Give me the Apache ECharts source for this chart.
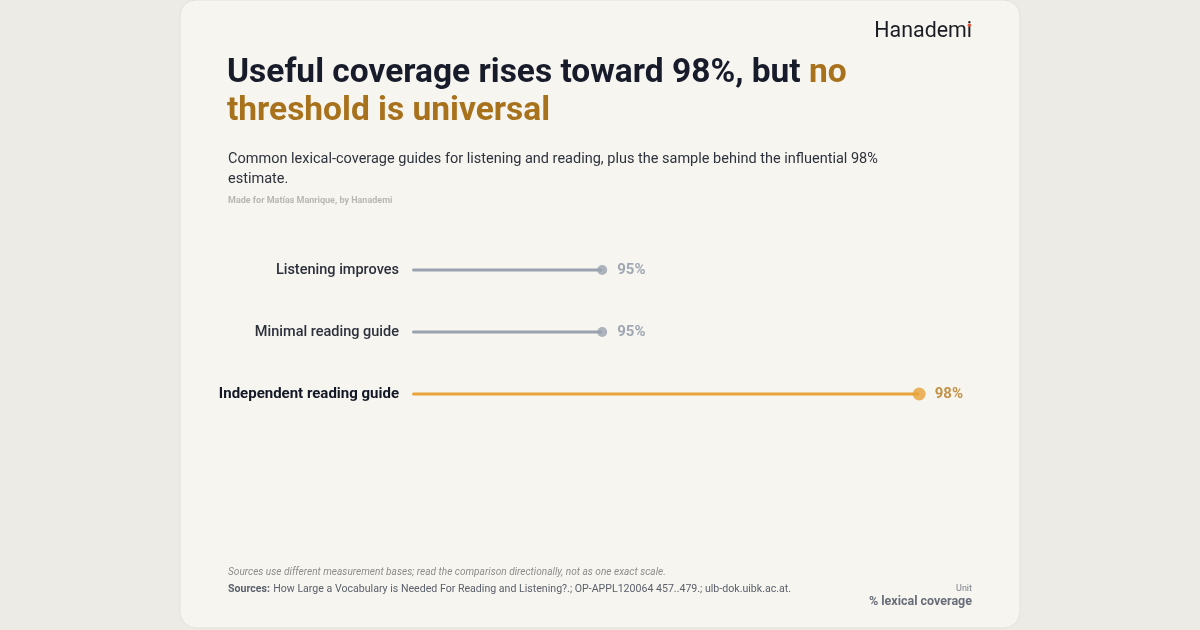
<!DOCTYPE html>
<html><head><meta charset="utf-8">
<script src="https://cdn.jsdelivr.net/npm/echarts@6/dist/echarts.min.js"></script>
<style>html,body{margin:0;padding:0;background:#ecebe6;}#c{width:1200px;height:630px;}</style>
</head><body><div id="c"></div>
<script>
const categories = ['Listening improves', 'Minimal reading guide', 'Independent reading guide'];
const values = [95, 95, 98];
const highlightIndex = 2;
const unitLabel = '% lexical coverage';

const FONT = 'Roboto, "Noto Sans", sans-serif';
const GREY = '#9aa2b0', ORANGE = '#e9a33b', GOLD = '#a8711c', INK = '#171b2a';

const chart = echarts.init(document.getElementById('c'), null, {renderer: 'canvas'});
const barData = values.map((v, i) => ({
  value: v,
  itemStyle: {color: i === highlightIndex ? ORANGE : GREY}
}));
const dotData = values.map((v, i) => ({
  value: [v, categories[i]],
  symbolSize: i === highlightIndex ? 13 : 10,
  itemStyle: {color: i === highlightIndex ? ORANGE : GREY},
  label: {
    color: i === highlightIndex ? '#b8791d' : '#8a93a2',
    distance: i === highlightIndex ? 9 : 10
  }
}));

chart.setOption({
  backgroundColor: '#ecebe6',
  animation: false,
  textStyle: {fontFamily: FONT},
  graphic: [
    {type: 'rect', z: -10, shape: {x: 180, y: 0, width: 840, height: 628, r: 16},
     style: {fill: '#f6f5f0', stroke: '#e3e1db', lineWidth: 1}},
    {type: 'text', right: 228, top: 21.5, style: {text: 'Hanademi', font: '400 21.4px ' + FONT, fill: '#1b1d24', align: 'right'}},
    {type: 'circle', z: 10, shape: {cx: 969.4, cy: 25.3, r: 1.8}, style: {fill: '#e2543a'}},
    {type: 'text', left: 227, top: 57, style: {
      text: '{a|Useful coverage rises toward 98%, but }{b|no}\n{b|threshold is universal}',
      rich: {
        a: {font: '700 33.5px ' + FONT, fill: INK, lineHeight: 38},
        b: {font: '700 33.5px ' + FONT, fill: GOLD, lineHeight: 38}
      }
    }},
    {type: 'text', left: 228, top: 149, style: {
      text: 'Common lexical-coverage guides for listening and reading, plus the sample behind the influential 98%\nestimate.',
      font: '400 14.5px ' + FONT, fill: '#2e323c', lineHeight: 20
    }},
    {type: 'text', left: 228, top: 196, style: {text: 'Made for Matías Manrique, by Hanademi', font: '700 9px ' + FONT, fill: '#b7b7b4'}},
    {type: 'text', left: 228, top: 567, style: {
      text: 'Sources use different measurement bases; read the comparison directionally, not as one exact scale.',
      font: 'italic 400 10.1px ' + FONT, fill: '#8c8c8a'}},
    {type: 'text', left: 228, top: 583, style: {
      text: '{b|Sources:} {n|How Large a Vocabulary is Needed For Reading and Listening?.; OP-APPL120064 457..479.; ulb-dok.uibk.ac.at.}',
      rich: {b: {font: '700 10.6px ' + FONT, fill: '#5b606b'}, n: {font: '400 10.6px ' + FONT, fill: '#5b606b'}}
    }},
    {type: 'text', right: 228, top: 584, style: {text: 'Unit', font: '400 9px ' + FONT, fill: '#7d818a', align: 'right'}},
    {type: 'text', right: 228, top: 595, style: {text: unitLabel, font: '700 12.5px ' + FONT, fill: '#686d78', align: 'right'}}
  ],
  grid: {left: 412, right: 228, top: 239, height: 186, containLabel: false},
  xAxis: {
    type: 'value', min: 93.2, max: 98.5, show: false
  },
  yAxis: {
    type: 'category', data: categories, inverse: true,
    axisLine: {show: false}, axisTick: {show: false}, splitLine: {show: false},
    axisLabel: {
      margin: 13,
      formatter: (v, i) => (i === highlightIndex ? '{h|' + v + '}' : '{n|' + v + '}'),
      rich: {
        n: {fontFamily: FONT, fontSize: 14.5, fontWeight: 500, color: '#2b303b'},
        h: {fontFamily: FONT, fontSize: 15, fontWeight: 700, color: '#141826'}
      }
    }
  },
  series: [
    {type: 'bar', data: barData, barWidth: 3, clip: true, silent: true,
     itemStyle: {borderRadius: 2}},
    {type: 'scatter', data: dotData, symbol: 'circle', z: 5,
     label: {show: true, position: 'right', formatter: p => p.value[0] + '%',
       fontFamily: FONT, fontSize: 15, fontWeight: 700}}
  ]
});
</script></body></html>
